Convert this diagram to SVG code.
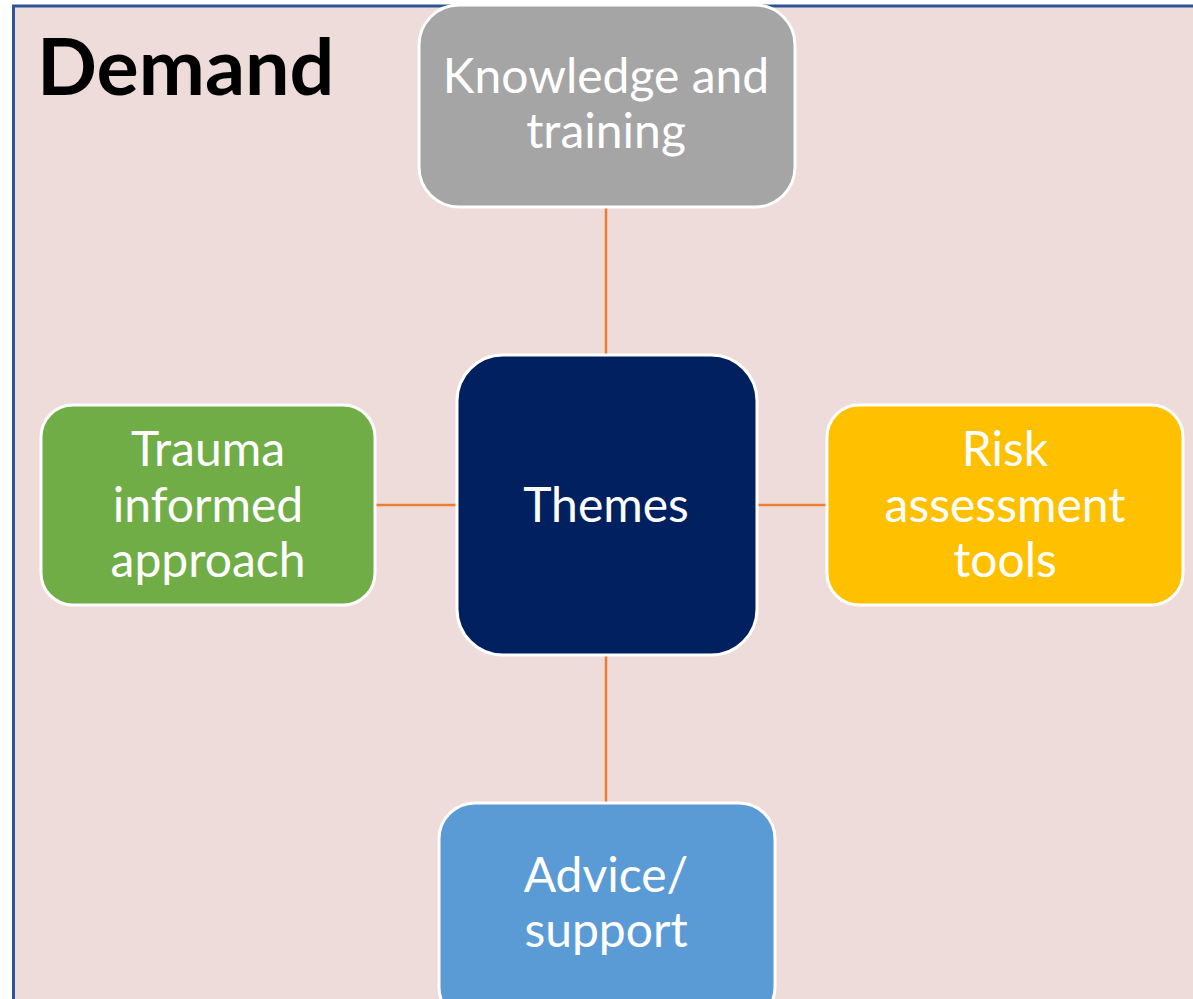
<svg xmlns="http://www.w3.org/2000/svg" width="1193" height="999" viewBox="0 0 1193 999">
  <style>
    .node rect { stroke: #ffffff; stroke-width: 3; }
    .label { font-family: Lato, "Open Sans", "Liberation Sans", sans-serif; font-size: 48px; fill: #ffffff; text-anchor: middle; }
    .title { font-family: Lato, "Liberation Sans", sans-serif; font-weight: bold; font-size: 79px; fill: #000000; }
    .link { stroke: #ED7D31; stroke-width: 2.5; fill: none; }
  </style>
  <!-- page and framed panel -->
  <rect x="0" y="0" width="1193" height="999" fill="#ffffff"/>
  <rect x="13.5" y="6" width="1200" height="1010" fill="#EEDCDA" stroke="#2F5597" stroke-width="3"/>
  <text class="title" x="37" y="95">Demand</text>

  <g id="connectors">
    <line class="link" x1="606" y1="207" x2="606" y2="355"/>
    <line class="link" x1="606" y1="655" x2="606" y2="803"/>
    <line class="link" x1="375" y1="505" x2="457" y2="505"/>
    <line class="link" x1="757" y1="505" x2="827" y2="505"/>
  </g>

  <g id="knowledge" class="node">
    <rect x="419" y="5" width="376" height="202" rx="40" fill="#A5A5A5"/>
    <text class="label" x="606" y="93">Knowledge and</text>
    <text class="label" x="606" y="148">training</text>
  </g>

  <g id="themes" class="node">
    <rect x="457" y="355" width="300" height="300" rx="46" fill="#002060"/>
    <text class="label" x="606" y="522">Themes</text>
  </g>

  <g id="trauma" class="node">
    <rect x="41" y="405" width="334" height="200" rx="32" fill="#70AD47"/>
    <text class="label" x="208" y="466">Trauma</text>
    <text class="label" x="208" y="522">informed</text>
    <text class="label" x="208" y="577">approach</text>
  </g>

  <g id="risk" class="node">
    <rect x="827" y="405" width="356" height="200" rx="32" fill="#FFC000"/>
    <text class="label" x="1005" y="466">Risk</text>
    <text class="label" x="1005" y="522">assessment</text>
    <text class="label" x="1005" y="577">tools</text>
  </g>

  <g id="advice" class="node">
    <rect x="439" y="803" width="336" height="220" rx="36" fill="#5B9BD5"/>
    <text class="label" x="606" y="892">Advice/</text>
    <text class="label" x="606" y="947">support</text>
  </g>
</svg>
